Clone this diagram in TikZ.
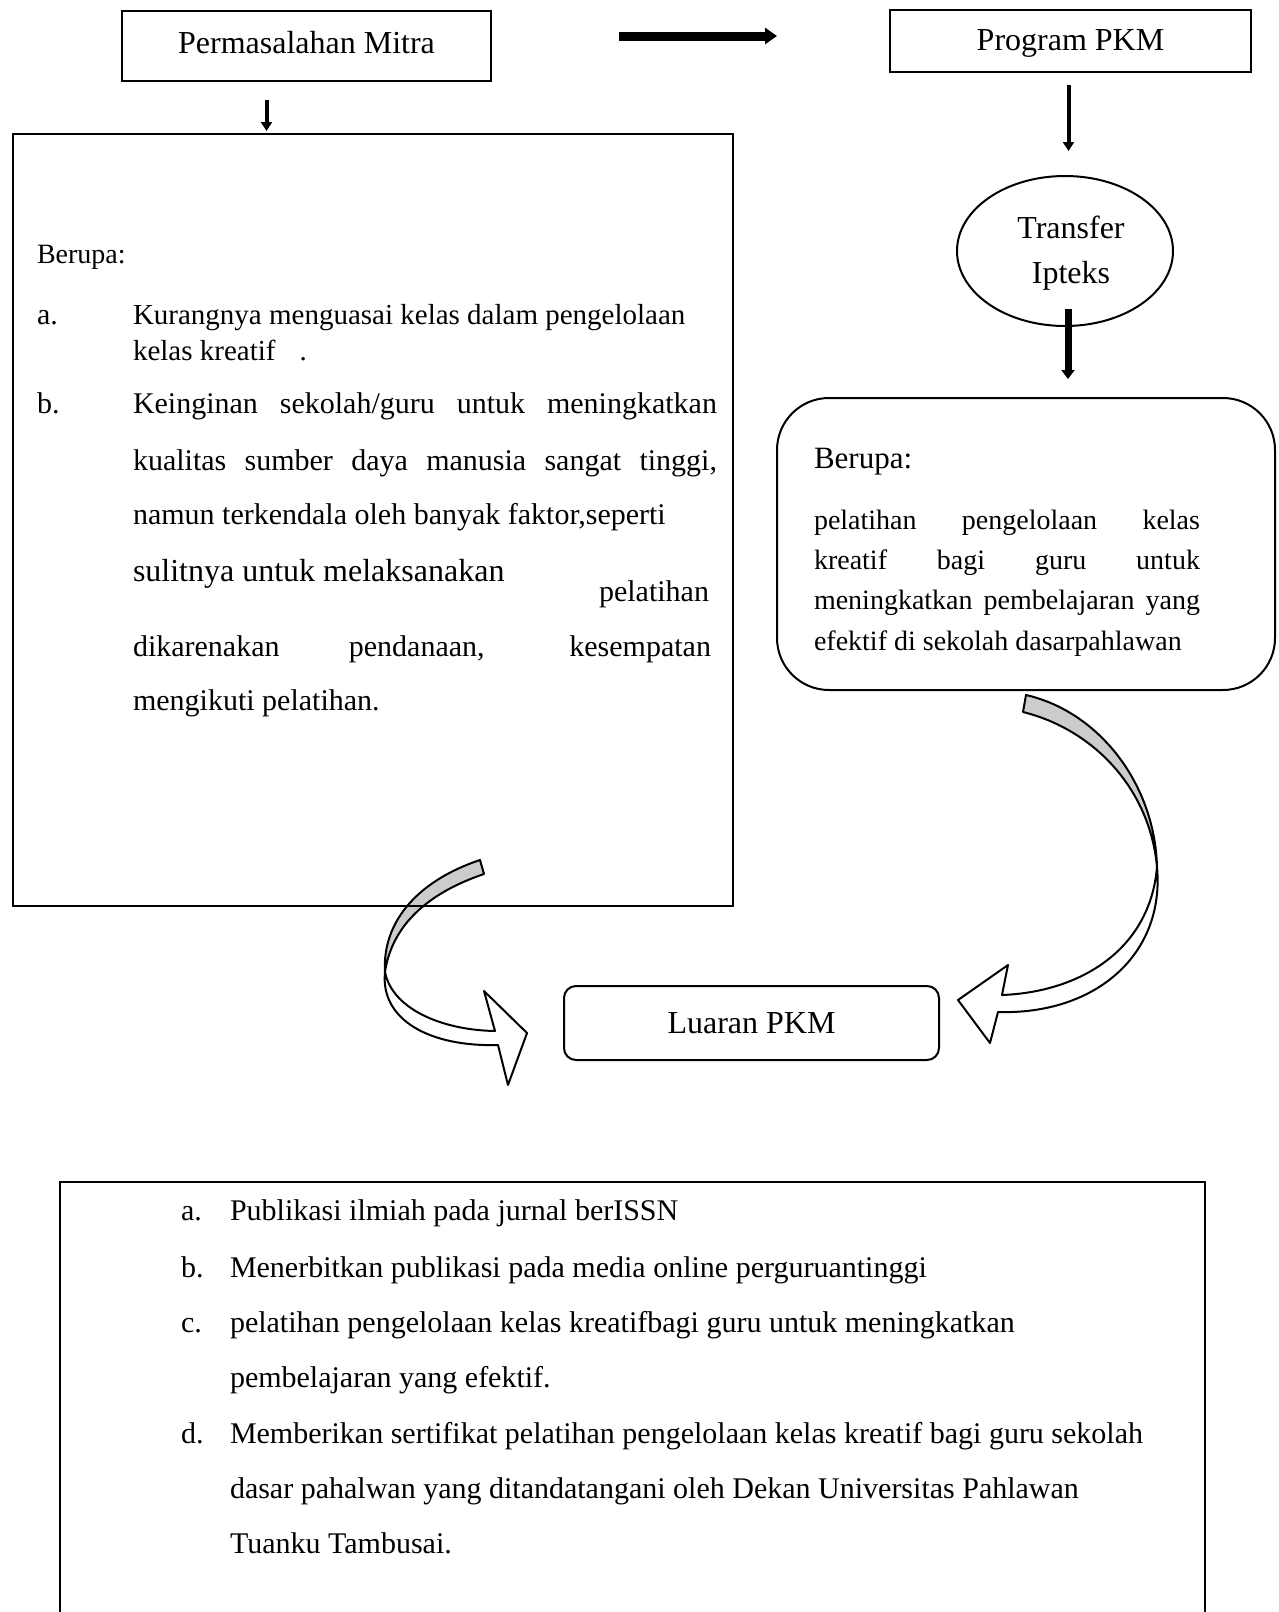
\documentclass[tikz,border=0pt]{standalone}
\usepackage{fontspec}
\setmainfont{Liberation Serif}
\usetikzlibrary{arrows.meta,shapes.geometric,positioning}
\definecolor{ribbongray}{HTML}{CCCCCC}
\newcommand{\titleFont}{\fontsize{32}{45}\selectfont}
\newcommand{\bodyFont}{\fontsize{30}{36}\selectfont}
\newcommand{\smallFont}{\fontsize{28}{40}\selectfont}
\newcommand{\newLine}[3]{\node[textline](#1) at (#2) {#3};}
\newcommand{\newFill}[4]{\node[textline](#1) at (#2) {\makebox[#3][s]{#4}};}

\begin{document}
\begin{tikzpicture}[
    % Pixel coordinates, y axis downwards
    x=1pt, y=-1pt,
    % Default stroke thickness
    line width=2pt,
    plainbox/.style={draw, rectangle, inner sep=0pt, font=\titleFont},
    biground/.style={draw, rectangle, rounded corners=52pt, inner sep=0pt},
    smallround/.style={draw, rectangle, rounded corners=12pt, inner sep=0pt, font=\titleFont},
    oval/.style={draw, ellipse, inner sep=0pt},
    textline/.style={anchor=base west, inner sep=0pt, font=\bodyFont},
    thinarrow/.style={line width=4pt, -{Triangle[length=9pt,width=11pt]}},
    thickarrow/.style={line width=9pt, -{Triangle[length=12pt,width=16pt]}},
    midarrow/.style={line width=7pt, -{Triangle[length=9pt,width=13pt]}},
    ribbon/.style={draw, line width=2pt, line join=round}
    ]
    \useasboundingbox (0,0) rectangle (1278,1612);

    % curved ribbon arrows (behind the boxes)
    \filldraw[ribbon, fill=ribbongray] (480,860) .. controls (420,880) and (382,920) .. (385,972)
        .. controls (392,925) and (428,893) .. (484,874) -- cycle;
    \filldraw[ribbon, fill=white] (385,972) .. controls (392,1008) and (440,1030) .. (495,1031)
        -- (484,991) -- (527,1033) -- (508,1085) -- (498,1045)
        .. controls (430,1047) and (380,1020) .. (385,972) -- cycle;
    \filldraw[ribbon, fill=ribbongray] (1026,695) .. controls (1100,712) and (1155,785) .. (1157,867)
        .. controls (1150,790) and (1095,730) .. (1023,712) -- cycle;
    \filldraw[ribbon, fill=white] (1157,867) .. controls (1150,950) and (1080,992) .. (1002,995)
        -- (1008,965) -- (958,1000) -- (990,1043) -- (998,1012)
        .. controls (1095,1015) and (1165,955) .. (1157,867) -- cycle;

    % boxes
    \node[plainbox, minimum width=369pt, minimum height=70pt, text depth=8pt] (mitra) at (306.5,46) {Permasalahan Mitra};
    \node[plainbox, minimum width=361pt, minimum height=62pt, text depth=1pt] (program) at (1070.5,41) {Program PKM};
    \node[plainbox, minimum width=720pt, minimum height=772pt] (masalah) at (373,520) {};
    \node[oval, minimum width=216pt, minimum height=150pt] (transfer) at (1065,251) {};
    \node[align=center, inner sep=0pt, font=\titleFont] (transfertext) at (1071,253) {Transfer\\Ipteks};
    \node[biground, minimum width=498pt, minimum height=292pt] (solusi) at (1026,544) {};
    \node[smallround, minimum width=375pt, minimum height=74pt] (luaran) at (751.5,1023) {Luaran PKM};
    \node[plainbox, minimum width=1145pt, minimum height=460pt] (daftar) at (632.5,1412) {};

    % straight arrows
    \coordinate (mitraout) at ([xshift=-40pt]mitra.south);
    \coordinate (transout) at ([xshift=3pt]transfer.south);
    \coordinate (programin) at ([yshift=5pt]program.west);
    \draw[thickarrow, shorten <=127pt, shorten >=112pt] (mitra.east |- programin) -- (programin);
    \draw[thinarrow, shorten <=18pt, shorten >=2pt] (mitraout) -- (mitraout |- masalah.north);
    \draw[thinarrow, shorten <=12pt, shorten >=24pt] ([xshift=-2pt]program.south) -- ([xshift=-2pt]program.south |- transfer.north);
    \draw[midarrow, shorten <=-18pt, shorten >=18pt] (transout) -- (transout |- solusi.north);

    % text of the problem box
    \node[textline, font=\smallFont] (m-head) at (36,263) {Berupa:};
    \newLine{m-a}{36,324}{a.}
    \node[textline, font=\fontsize{29}{36}\selectfont] (m-a1) at (132,324) {Kurangnya menguasai kelas dalam pengelolaan};
    \node[textline, font=\fontsize{29}{36}\selectfont] (m-a2) at (132,360) {kelas kreatif\hspace{24pt}.};
    \newLine{m-b}{36,413}{b.}
    \newFill{m-b1}{132,413}{584pt}{Keinginan sekolah/guru untuk meningkatkan}
    \newFill{m-b2}{132,470}{584pt}{kualitas sumber daya manusia sangat tinggi,}
    \newLine{m-b3}{132,524}{namun terkendala oleh banyak faktor,seperti}
    \node[textline, font=\titleFont] (m-b4) at (132,581) {sulitnya untuk melaksanakan};
    \node[textline, anchor=base east] (m-b5) at (710,601) {pelatihan};
    \newFill{m-b6}{132,656}{578pt}{dikarenakan pendanaan, kesempatan}
    \newLine{m-b7}{132,710}{mengikuti pelatihan.}

    % text of the solution box
    \node[textline, font=\fontsize{31}{40}\selectfont] (s-head) at (813,468) {Berupa:};
    \node[textline, font=\smallFont] (s-1) at (813,529) {\makebox[386pt][s]{pelatihan pengelolaan kelas}};
    \node[textline, font=\smallFont] (s-2) at (813,569) {\makebox[386pt][s]{kreatif bagi guru untuk}};
    \node[textline, font=\smallFont] (s-3) at (813,609) {\makebox[386pt][s]{meningkatkan pembelajaran yang}};
    \node[textline, font=\smallFont] (s-4) at (813,650) {efektif di sekolah dasarpahlawan};

    % text of the output list
    \newLine{l-a}{180,1220}{a.}
    \newLine{l-a1}{229,1220}{Publikasi ilmiah pada jurnal berISSN}
    \newLine{l-b}{180,1277}{b.}
    \newLine{l-b1}{229,1277}{Menerbitkan publikasi pada media online perguruantinggi}
    \newLine{l-c}{180,1332}{c.}
    \newLine{l-c1}{229,1332}{pelatihan pengelolaan kelas kreatifbagi guru untuk meningkatkan}
    \newLine{l-c2}{229,1387}{pembelajaran yang efektif.}
    \newLine{l-d}{180,1443}{d.}
    \newLine{l-d1}{229,1443}{Memberikan sertifikat pelatihan pengelolaan kelas kreatif bagi guru sekolah}
    \newLine{l-d2}{229,1498}{dasar pahalwan yang ditandatangani oleh Dekan Universitas Pahlawan}
    \newLine{l-d3}{229,1553}{Tuanku Tambusai.}
\end{tikzpicture}
\end{document}
